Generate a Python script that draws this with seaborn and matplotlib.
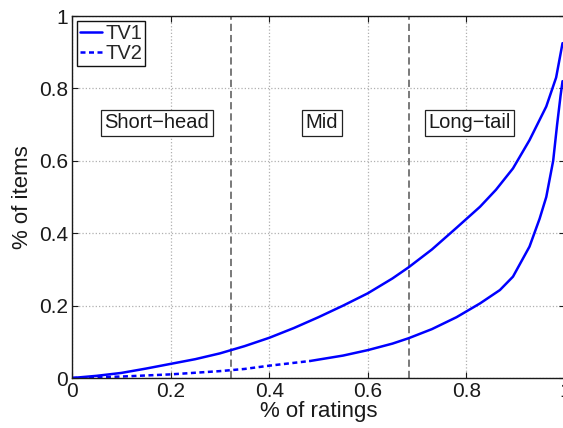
import numpy as np
import pandas as pd
import matplotlib
matplotlib.use("Agg")
import matplotlib.pyplot as plt
import seaborn as sns
from matplotlib.lines import Line2D

# ---- data ----
tv1_x = [0, 0.05, 0.1, 0.15, 0.2, 0.25, 0.3, 0.35, 0.4, 0.45, 0.5, 0.55, 0.6, 0.65, 0.683,
         0.73, 0.78, 0.8276, 0.86, 0.8945, 0.928, 0.962, 0.982, 0.995]
tv1_y = [0, 0.006, 0.014, 0.026, 0.039, 0.052, 0.068, 0.088, 0.111, 0.138, 0.168, 0.2, 0.234, 0.275, 0.306,
         0.355, 0.415, 0.473, 0.52, 0.579, 0.657, 0.75, 0.83, 0.925]

tv2_x = [0, 0.05, 0.1, 0.2, 0.3, 0.35, 0.4, 0.483, 0.55, 0.6, 0.65, 0.683, 0.73, 0.78,
         0.8276, 0.868, 0.8945, 0.928, 0.9485, 0.962, 0.976, 0.984, 0.991, 0.995]
tv2_y = [0, 0.002, 0.004, 0.01, 0.019, 0.025, 0.034, 0.047, 0.062, 0.077, 0.095, 0.11, 0.135, 0.168,
         0.206, 0.243, 0.28, 0.363, 0.44, 0.50, 0.60, 0.70, 0.78, 0.82]
tv2_dash_end = 0.483  # TV2 drawn dashed up to here

boundaries = [0.322, 0.683]
region_labels = ["Short\u2212head", "Mid", "Long\u2212tail"]
region_x = [0.172, 0.507, 0.806]
region_y = 0.705

xticks = [0, 0.2, 0.4, 0.6, 0.8, 1]
yticks = [0, 0.2, 0.4, 0.6, 0.8, 1]
tick_labels = ["0", "0.2", "0.4", "0.6", "0.8", "1"]

sns.set_style("ticks")
plt.rcParams['font.family'] = ['Liberation Sans', 'DejaVu Sans']

fig = plt.figure(figsize=(5.63, 4.28), dpi=100)
ax = fig.add_axes([72 / 563, 50 / 428, 493 / 563, 362 / 428])

blue = (0, 0, 1)
lw = 1.8
dash = (0, (2.0, 1.4))
df1 = pd.DataFrame({"x": tv1_x, "y": tv1_y})
df2 = pd.DataFrame({"x": tv2_x, "y": tv2_y})
d2a = df2[df2.x <= tv2_dash_end]
d2b = df2[df2.x >= tv2_dash_end]

sns.lineplot(data=df1, x="x", y="y", ax=ax, color=blue, lw=lw, sort=False)
sns.lineplot(data=d2a, x="x", y="y", ax=ax, color=blue, lw=lw, sort=False, linestyle=dash)
sns.lineplot(data=d2b, x="x", y="y", ax=ax, color=blue, lw=lw, sort=False)

for b in boundaries:
    ax.axvline(b, color="#6e6e6e", lw=1.3, linestyle=(0, (4, 2.2)), zorder=1)

for lab, xx in zip(region_labels, region_x):
    ax.text(xx, region_y, lab, ha="center", va="center", fontsize=14.5, color="#1a1a1a",
            bbox=dict(facecolor="white", edgecolor="#222222", lw=0.9, pad=2.5), zorder=5)

ax.set_xlim(0, 1)
ax.set_ylim(0, 1)
ax.set_xticks(xticks)
ax.set_yticks(yticks)
ax.set_xticklabels(tick_labels)
ax.set_yticklabels(tick_labels)
ax.grid(True, color="#b0b0b0", linestyle=":", lw=0.9)
ax.set_axisbelow(True)
ax.tick_params(direction="in", length=4, width=0.8, top=True, right=True,
               labelsize=15, colors="#1a1a1a", pad=3)
for s in ax.spines.values():
    s.set_color("#1a1a1a")
    s.set_linewidth(1.0)
ax.set_xlabel("% of ratings", fontsize=16, color="#1a1a1a", labelpad=0)
ax.set_ylabel("% of items", fontsize=16, color="#1a1a1a", labelpad=4)

handles = [Line2D([], [], color=blue, lw=lw),
           Line2D([], [], color=blue, lw=lw, linestyle=dash)]
leg = ax.legend(handles, ["TV1", "TV2"], loc="upper left", fontsize=14.5,
                handlelength=1.1, handletextpad=0.15, borderpad=0.15,
                labelspacing=0.05, borderaxespad=0.25, frameon=True, fancybox=False)
leg.get_frame().set_edgecolor("#111111")
leg.get_frame().set_linewidth(1.0)
leg.get_frame().set_alpha(1)

fig.savefig("out.png", dpi=100)
